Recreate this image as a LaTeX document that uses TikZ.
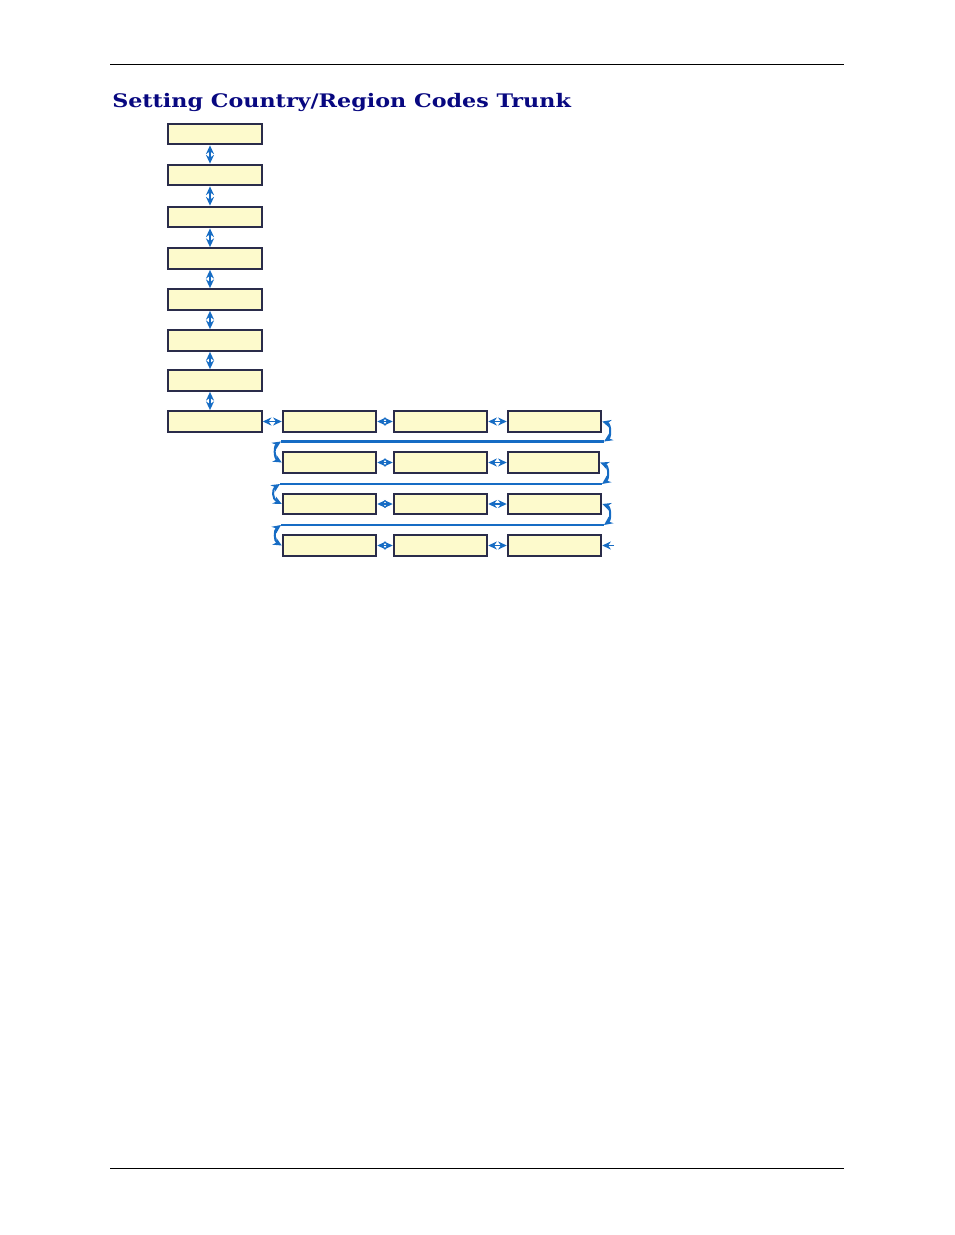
\documentclass[tikz,border=0pt]{standalone}
\usepackage{fontspec}
\usepackage{graphicx}
\newfontfamily\titlefont{DejaVu Serif}
\usetikzlibrary{arrows.meta}
\definecolor{boxfill}{RGB}{253,250,204}
\definecolor{boxdraw}{RGB}{42,44,74}
\definecolor{conncol}{RGB}{22,108,196}
\definecolor{titlecol}{RGB}{8,8,128}
\begin{document}
\begin{tikzpicture}[x=0.75pt,y=-0.75pt,
  menubox/.style={draw=boxdraw,fill=boxfill,line width=1.6pt,inner sep=0pt,
    minimum width=70pt,minimum height=15.5pt},
  conn/.style={draw=conncol,line width=1pt,
    arrows={Stealth[length=6.5pt,width=6pt]-Stealth[length=6.5pt,width=6pt]}},
  oneway/.style={draw=conncol,line width=1pt,-{Stealth[length=6.5pt,width=6pt]}},
  hline/.style={draw=conncol,line width=1.6pt},
  rule/.style={draw=black,line width=0.75pt}]
\useasboundingbox (0,0) rectangle (954,1235);
% page rules
\coordinate (h1) at (110,64.5);
\coordinate (h2) at (844,64.5);
\coordinate (f1) at (110,1168);
\coordinate (f2) at (844,1168);
\draw[rule] (h1) -- (h2);
\draw[rule] (f1) -- (f2);
% title
\node[anchor=base west,inner sep=0pt,text=titlecol] (title) at (112,107.5)
  {\resizebox{344pt}{\height}{\fontsize{14pt}{16pt}\titlefont\bfseries Setting Country/Region Codes Trunk}};
% left column
\node[menubox] (a1) at (215,134) {};
\node[menubox] (a2) at (215,175) {};
\node[menubox] (a3) at (215,217) {};
\node[menubox] (a4) at (215,258.5) {};
\node[menubox] (a5) at (215,299.5) {};
\node[menubox] (a6) at (215,340.5) {};
\node[menubox] (a7) at (215,380.5) {};
\node[menubox] (a8) at (215,421.5) {};
\foreach \i/\j in {a1/a2,a2/a3,a3/a4,a4/a5,a5/a6,a6/a7,a7/a8}
  \draw[conn] ([xshift=-3.75pt]\i.south) -- ([xshift=-3.75pt]\j.north);
% rows
\node[menubox] (b11) at (329.5,421.5) {};
\node[menubox] (b12) at (440.5,421.5) {};
\node[menubox] (b13) at (554.5,421.5) {};
\node[menubox] (b21) at (329.5,462.5) {};
\node[menubox] (b22) at (440.5,462.5) {};
\node[menubox,minimum width=68.5pt] (b23) at (553.5,462.5) {};
\node[menubox] (b31) at (329.5,504) {};
\node[menubox] (b32) at (440.5,504) {};
\node[menubox] (b33) at (554.5,504) {};
\node[menubox] (b41) at (329.5,545.5) {};
\node[menubox] (b42) at (440.5,545.5) {};
\node[menubox] (b43) at (554.5,545.5) {};
\draw[conn] (a8.east) -- (b11.west);
\foreach \r in {1,2,3,4}{
  \draw[conn] (b\r1.east) -- (b\r2.west);
  \draw[conn] (b\r2.east) -- (b\r3.west);
}
% wrap-around connectors
\coordinate (r1) at (604,441.5);
\coordinate (l1) at (281,441.5);
\coordinate (r2) at (602,484);
\coordinate (l2) at (280,484);
\coordinate (r3) at (604,525);
\coordinate (l3) at (281,525);
\draw[hline] (l1) -- (r1);
\draw[hline] (l2) -- (r2);
\draw[hline,line width=1.1pt] (l3) -- (r3);
\draw[conn,line width=1.5pt] (b13.east) .. controls (611,424) and (611,437) .. (r1);
\draw[conn,line width=1.5pt] (b23.east) .. controls (609,466) and (609,479) .. (r2);
\draw[conn,line width=1.5pt] (b33.east) .. controls (611,507) and (611,520) .. (r3);
\draw[conn,line width=1.5pt] (l1) .. controls (274,446) and (274,458) .. (b21.west);
\draw[conn,line width=1.5pt] (l2) .. controls (272,489) and (272,499) .. (b31.west);
\draw[conn,line width=1.5pt] (l3) .. controls (274,530) and (274,541) .. (b41.west);
\coordinate (e) at (614,545.5);
\draw[oneway] (e) -- (b43.east);
\end{tikzpicture}
\end{document}
